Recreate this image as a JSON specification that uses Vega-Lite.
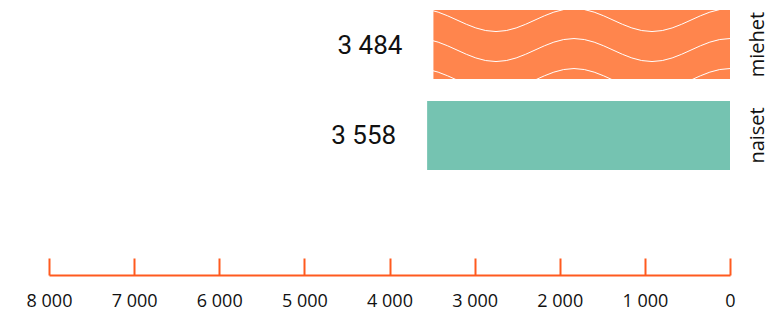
{
  "$schema": "https://vega.github.io/schema/vega-lite/v6.json",
  "width": 681,
  "height": 180,
  "autosize": "none",
  "padding": {"left": 49, "top": 0, "right": 50, "bottom": 132},
  "background": "#ffffff",
  "config": {
    "view": {"stroke": null},
    "locale": {"number": {"decimal": ",", "thousands": " ", "grouping": [3], "currency": ["", " €"]}}
  },
  "data": {"values": [
    {"sukupuoli": "miehet", "arvo": 3484},
    {"sukupuoli": "naiset", "arvo": 3558}
  ]},
  "encoding": {
    "y": {
      "field": "sukupuoli", "type": "nominal", "sort": ["miehet", "naiset"],
      "scale": {"paddingInner": 0.24, "paddingOuter": 0.11},
      "axis": {"orient": "right", "title": null, "domain": false, "ticks": false,
        "labelAngle": -90, "labelAlign": "center", "labelBaseline": "top",
        "labelFont": "Open Sans", "labelFontSize": 20, "labelColor": "#111111", "labelPadding": 17}
    },
    "x": {
      "field": "arvo", "type": "quantitative",
      "scale": {"domain": [0, 8000], "reverse": true, "nice": false},
      "axis": {"orient": "bottom", "offset": 95, "title": null, "grid": false,
        "values": [0, 1000, 2000, 3000, 4000, 5000, 6000, 7000, 8000], "format": ",d",
        "domainColor": "#ff5a1f", "domainWidth": 2, "tickColor": "#ff5a1f", "tickWidth": 2, "tickSize": -17,
        "labelFont": "Open Sans", "labelFontSize": 18, "labelColor": "#111111", "labelPadding": 34,
        "labelBaseline": "top", "labelFlush": false}
    }
  },
  "layer": [
    {
      "mark": {"type": "bar", "orient": "horizontal"},
      "encoding": {"color": {"field": "sukupuoli", "type": "nominal", "legend": null,
        "scale": {"domain": ["miehet", "naiset"], "range": ["#ff854d", "#75c3b1"]}}}
    },
    {
      "transform": [{"filter": "datum.sukupuoli === 'miehet'"}],
      "mark": {"type": "point", "size": 4, "filled": false, "stroke": "#ffffff", "strokeWidth": 1, "opacity": 1,
        "shape": "M-312,-36 C-283.7,-36 -262.3,-13 -234,-13 C-205.7,-13 -184.3,-36 -156,-36 C-127.7,-36 -106.3,-13 -78,-13 C-49.7,-13 -28.3,-36 0,-36 M-312,-6 C-283.7,-6 -262.3,17 -234,17 C-205.7,17 -184.3,-6 -156,-6 C-127.7,-6 -106.3,17 -78,17 C-49.7,17 -28.3,-6 0,-6 M-312,24 C-283.7,24 -262.3,47 -234,47 C-205.7,47 -184.3,24 -156,24 C-127.7,24 -106.3,47 -78,47 C-49.7,47 -28.3,24 0,24"},
      "encoding": {"x": {"datum": 0, "type": "quantitative"}}
    },
    {
      "mark": {"type": "text", "align": "right", "baseline": "middle", "dx": -31, "dy": 1, "font": "Roboto", "fontSize": 26, "color": "#111111"},
      "encoding": {"text": {"field": "arvo", "type": "quantitative", "format": ",d"}}
    }
  ]
}
